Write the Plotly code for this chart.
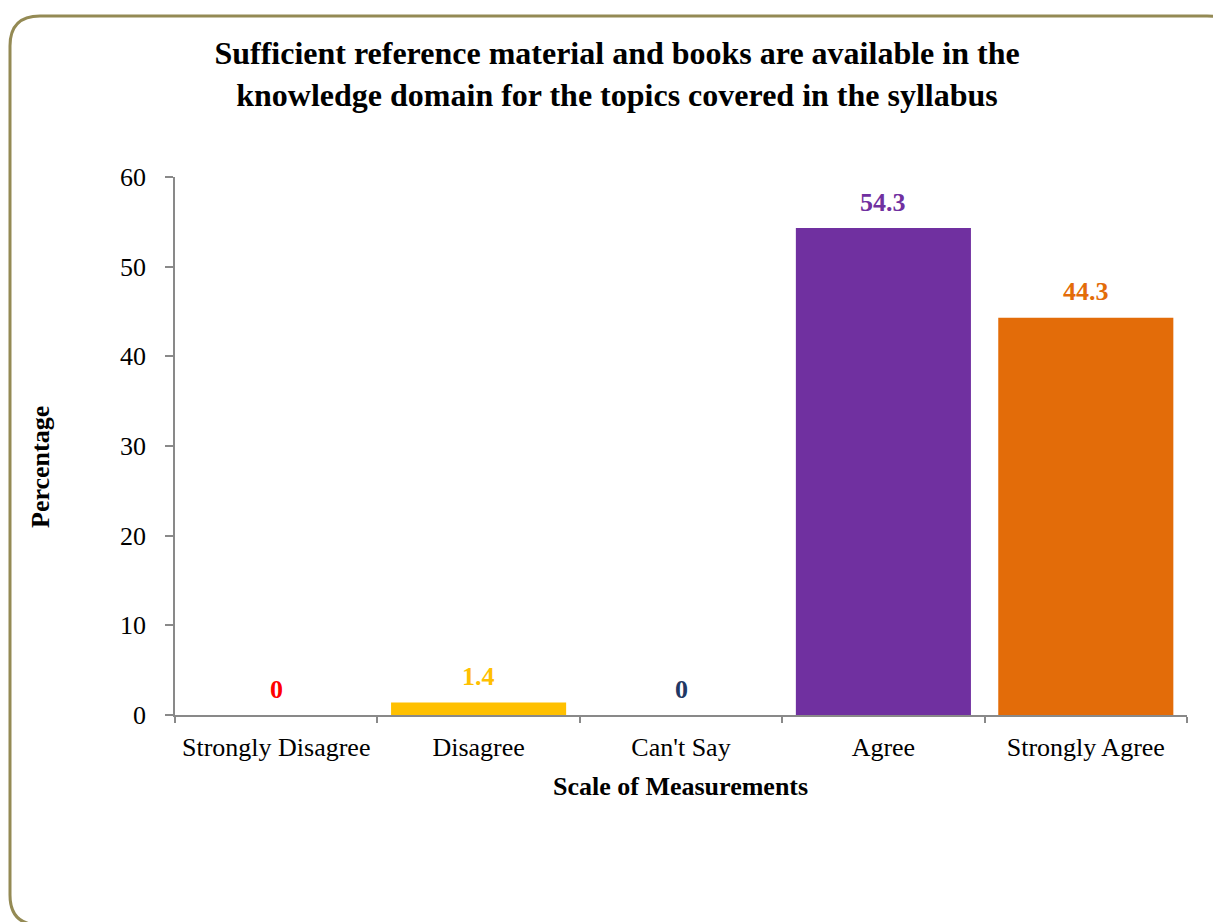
import plotly.graph_objects as go

categories = ["Strongly Disagree", "Disagree", "Can't Say", "Agree", "Strongly Agree"]
values = [0, 1.4, 0, 54.3, 44.3]
bar_colors = ["#FF0000", "#FFC000", "#1F3864", "#7030A0", "#E36C09"]
label_colors = ["#FF0000", "#FFC000", "#1F3864", "#7030A0", "#E36C09"]
y_ticks = [0, 10, 20, 30, 40, 50, 60]

title_text = ("Sufficient reference material and books are available in the<br>"
              "knowledge domain for the topics covered in the syllabus")

W, H = 1213, 922
L, R, T, B = 175, 1187, 177, 715  # plot area pixels


def px(xp):
    return (xp - L) / (R - L)


def py(yp):
    return (B - yp) / (B - T)


FONT = "Liberation Serif, Times New Roman, serif"

fig = go.Figure()
fig.add_trace(go.Bar(
    x=categories, y=values, marker=dict(color=bar_colors, line=dict(width=0)),
    width=0.865, hoverinfo="skip", showlegend=False,
))

annotations = []
for c, v, col in zip(categories, values, label_colors):
    annotations.append(dict(
        x=c, y=v, xref="x", yref="y", text=f"<b>{v:g}</b>", showarrow=False,
        yanchor="middle", yshift=26, font=dict(family=FONT, size=26, color=col),
    ))

annotations.append(dict(
    x=px(680), y=py(786), xref="paper", yref="paper", text="<b>Scale of Measurements</b>",
    showarrow=False, xanchor="center", yanchor="middle",
    font=dict(family=FONT, size=26, color="#000000"),
))
annotations.append(dict(
    x=px(40), y=py(467), xref="paper", yref="paper", text="<b>Percentage</b>",
    showarrow=False, xanchor="center", yanchor="middle", textangle=-90,
    font=dict(family=FONT, size=26, color="#000000"),
))

# rounded border
x0, y0, x1, y1, r = 10, 16, 1237, 925, 30
path = (
    f"M {px(x0 + r)},{py(y0)} L {px(x1 - r)},{py(y0)} "
    f"Q {px(x1)},{py(y0)} {px(x1)},{py(y0 + r)} "
    f"L {px(x1)},{py(y1 - r)} Q {px(x1)},{py(y1)} {px(x1 - r)},{py(y1)} "
    f"L {px(x0 + r)},{py(y1)} Q {px(x0)},{py(y1)} {px(x0)},{py(y1 - r)} "
    f"L {px(x0)},{py(y0 + r)} Q {px(x0)},{py(y0)} {px(x0 + r)},{py(y0)} Z"
)

fig.update_layout(
    width=W, height=H,
    margin=dict(l=L, r=W - R, t=T, b=H - B, autoexpand=False),
    paper_bgcolor="white", plot_bgcolor="white",
    font=dict(family=FONT, color="#000000"),
    title=dict(
        text=f"<b>{title_text}</b>", xref="container", x=617 / W, xanchor="center",
        yref="container", y=1 - 64 / H, yanchor="top",
        font=dict(family=FONT, size=32, color="#000000"),
    ),
    annotations=annotations,
    shapes=[dict(type="path", path=path, xref="paper", yref="paper",
                 line=dict(color="#948A54", width=3), fillcolor="rgba(0,0,0,0)", layer="above")],
    bargap=0.135,
)

fig.update_xaxes(
    showline=True, linecolor="#898989", linewidth=1.5, ticks="outside", tickson="boundaries",
    ticklen=6, tickcolor="#898989", tickwidth=1.5, showgrid=False, zeroline=False,
    tickfont=dict(family=FONT, size=26, color="#000000"), ticklabelstandoff=8,
)
fig.update_yaxes(
    range=[0, 60], tickvals=y_ticks, showline=True, linecolor="#898989", linewidth=1.5,
    ticks="outside", ticklen=8, tickcolor="#898989", tickwidth=1.5, showgrid=False,
    zeroline=False, tickfont=dict(family=FONT, size=26, color="#000000"), ticklabelstandoff=14,
)

fig.write_html("out.html", config={"displayModeBar": False},
               post_script="document.body.style.margin='0';document.body.style.overflow='hidden';")
